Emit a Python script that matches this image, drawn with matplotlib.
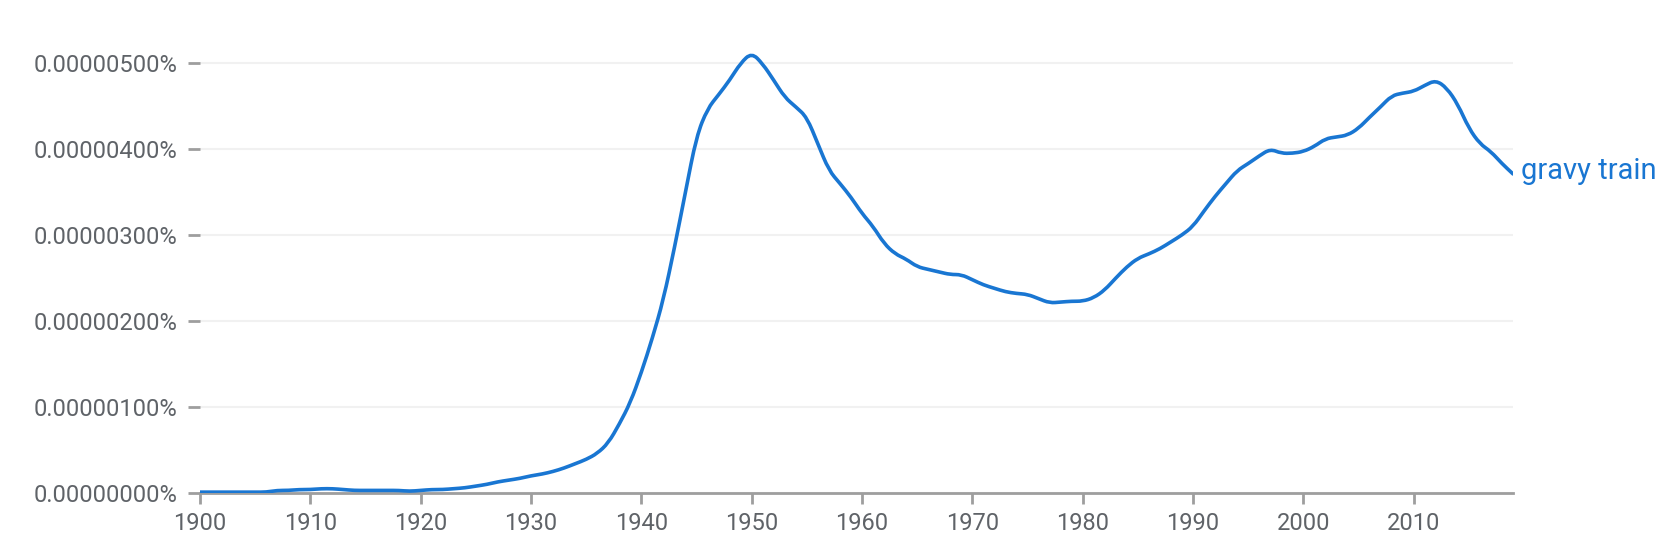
import matplotlib.pyplot as plt
from matplotlib.path import Path
from matplotlib.patches import PathPatch
from matplotlib.ticker import FuncFormatter

plt.rcParams['font.family'] = ['Roboto', 'DejaVu Sans']

# frequency in units of 0.000001 %
years = list(range(1900, 2020))
freq = [
    0.01, 0.01, 0.01, 0.01, 0.01, 0.01, 0.01, 0.03, 0.03, 0.04,  # 1900s
    0.04, 0.05, 0.05, 0.04, 0.03, 0.03, 0.03, 0.03, 0.03, 0.02,  # 1910s
    0.03, 0.04, 0.04, 0.05, 0.06, 0.08, 0.10, 0.13, 0.15, 0.17,  # 1920s
    0.20, 0.22, 0.25, 0.29, 0.34, 0.39, 0.46, 0.58, 0.80, 1.05,  # 1930s
    1.40, 1.80, 2.25, 2.85, 3.50, 4.15, 4.47, 4.63, 4.80, 5.00,  # 1940s
    5.12, 4.99, 4.80, 4.60, 4.49, 4.37, 4.06, 3.75, 3.60, 3.44,  # 1950s
    3.25, 3.10, 2.90, 2.78, 2.72, 2.63, 2.60, 2.57, 2.54, 2.54,  # 1960s
    2.48, 2.42, 2.38, 2.34, 2.32, 2.31, 2.26, 2.21, 2.22, 2.23,  # 1970s
    2.23, 2.27, 2.36, 2.50, 2.63, 2.73, 2.78, 2.84, 2.92, 3.00,  # 1980s
    3.10, 3.28, 3.45, 3.60, 3.75, 3.83, 3.92, 4.00, 3.95, 3.95,  # 1990s
    3.97, 4.03, 4.12, 4.14, 4.16, 4.24, 4.37, 4.49, 4.62, 4.65,  # 2000s
    4.67, 4.74, 4.80, 4.71, 4.52, 4.24, 4.06, 3.97, 3.83, 3.71,  # 2010s
]
label = "gravy train"
yticks = [0, 1, 2, 3, 4, 5]
xticks = list(range(1900, 2011, 10))

line_color = '#1976d2'
text_color = '#5f6368'
axis_color = '#9e9e9e'

fig = plt.figure(figsize=(16.75, 5.48), dpi=100)
ax = fig.add_axes([200 / 1675, 1 - 493 / 548, 1313 / 1675, 5.2 * 86 / 548])

# smooth the yearly polyline with quadratic curves through the midpoints
pts = list(zip(years, freq))
verts = [pts[0]]
codes = [Path.MOVETO]
for i in range(1, len(pts) - 1):
    mid = ((pts[i][0] + pts[i + 1][0]) / 2, (pts[i][1] + pts[i + 1][1]) / 2)
    verts += [pts[i], mid]
    codes += [Path.CURVE3, Path.CURVE3]
verts.append(pts[-1])
codes.append(Path.LINETO)
ax.add_patch(PathPatch(Path(verts, codes), facecolor='none', edgecolor=line_color,
                       lw=2.6, capstyle='round', joinstyle='round', zorder=3))

ax.text(years[-1] + 0.7, freq[-1] + 0.04, label, color=line_color, fontsize=21,
        va='center', ha='left', clip_on=False)

ax.set_xlim(1900, 2019)
ax.set_ylim(0, 5.2)
ax.set_yticks(yticks)
ax.set_xticks(xticks)
ax.yaxis.set_major_formatter(FuncFormatter(lambda v, p: f"{v * 1e-6:.8f}%"))
ax.grid(axis='y', color='#f1f1f1', lw=1.5, zorder=0)

for s in ['top', 'right', 'left']:
    ax.spines[s].set_visible(False)
ax.spines['bottom'].set_color(axis_color)
ax.spines['bottom'].set_linewidth(2)
ax.spines['bottom'].set_zorder(2)

ax.tick_params(axis='y', length=9, width=2, color=axis_color, labelcolor=text_color,
               labelsize=17, pad=7)
ax.tick_params(axis='x', length=8, width=2, color=axis_color, labelcolor=text_color,
               labelsize=17, pad=6)

fig.savefig('out.png', dpi=100)
